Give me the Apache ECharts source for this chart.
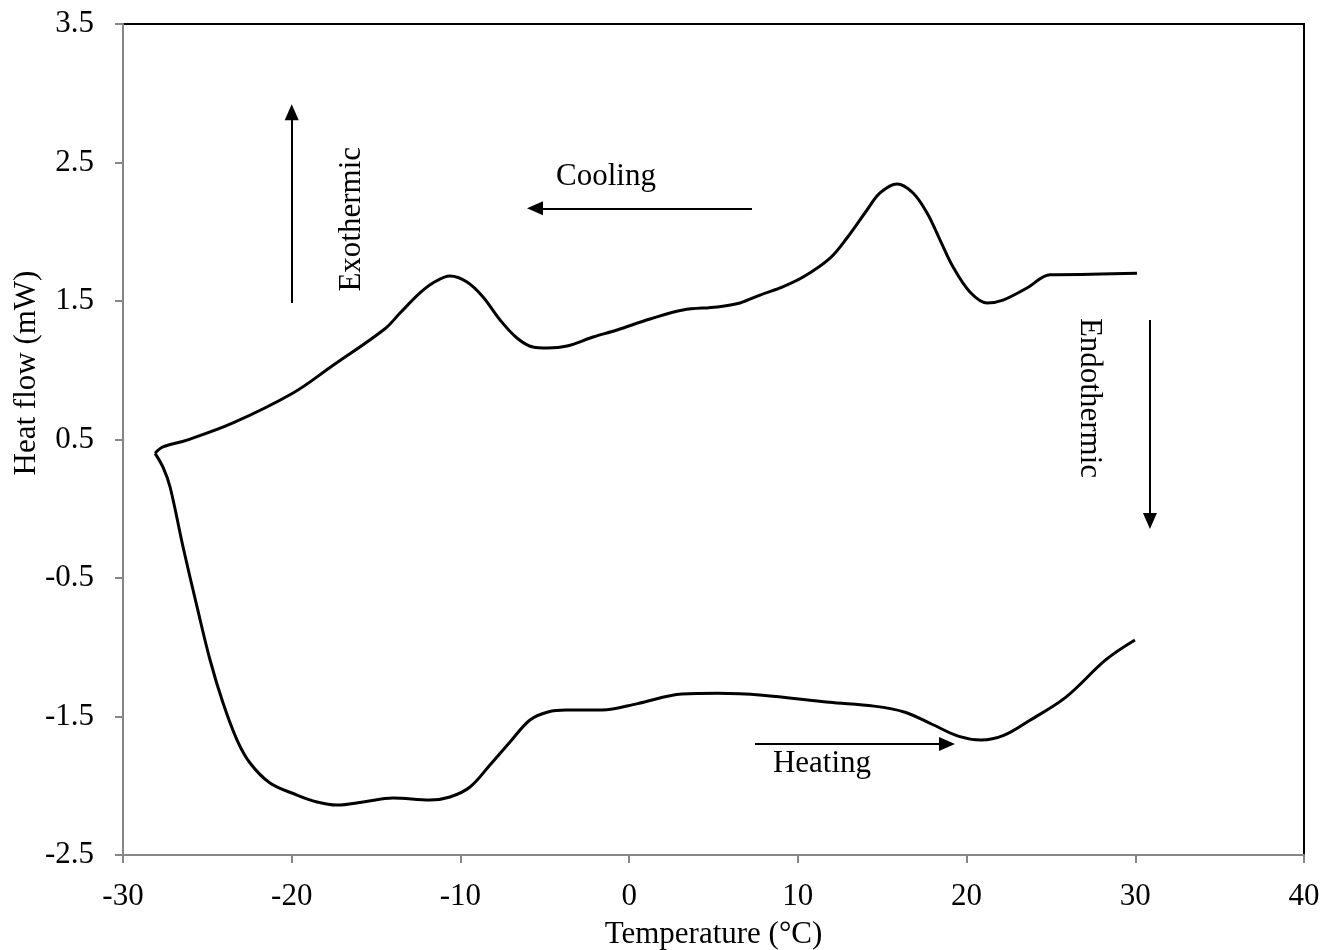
<!DOCTYPE html>
<html><head><meta charset="utf-8">
<script src="https://cdn.jsdelivr.net/npm/echarts@6/dist/echarts.min.js"></script>
<style>html,body{margin:0;padding:0;background:#fff}#c{width:1325px;height:950px}</style>
</head><body><div id="c"></div>
<script>
// Cooling scan (upper curve), read from 30 °C down to -28 °C
const coolingT = [30.1, 25.36, 24.95, 23.58, 22.16, 21.21, 20.2, 19.2, 18.43, 17.66, 16.83, 15.88, 14.87, 14.1, 12.91, 11.91, 10.31, 8.94, 7.76, 6.57, 5.21, 3.19, 1.24, -0.72, -2.14, -3.68, -4.87, -5.7, -6.65, -7.65, -8.66, -9.61, -10.62, -11.63, -12.4, -13.58, -14.47, -17.73, -19.92, -23.48, -26.21, -27.63, -28.1];
const coolingH = [1.70, 1.69, 1.69, 1.594, 1.507, 1.486, 1.565, 1.745, 1.94, 2.135, 2.28, 2.345, 2.28, 2.157, 1.955, 1.81, 1.673, 1.594, 1.543, 1.486, 1.457, 1.435, 1.37, 1.291, 1.24, 1.175, 1.161, 1.168, 1.233, 1.363, 1.529, 1.637, 1.68, 1.63, 1.558, 1.413, 1.30, 1.02, 0.836, 0.62, 0.496, 0.446, 0.40];
// Heating scan (lower curve), from -28 °C up to 30 °C
const heatingT = [-28.1, -27.63, -27.21, -26.44, -25.61, -24.84, -24.07, -23.24, -22.47, -21.29, -19.69, -18.5, -17.32, -15.77, -14.0, -11.8, -10.62, -9.43, -8.25, -7.06, -5.88, -4.81, -3.74, -1.61, 0.5, 3.13, 5.27, 7.9, 11.85, 14.51, 16.35, 17.95, 19.55, 20.86, 22.2, 23.76, 25.89, 28.26, 29.98];
const heatingH = [0.40, 0.30, 0.157, -0.276, -0.709, -1.092, -1.403, -1.67, -1.836, -1.98, -2.067, -2.117, -2.139, -2.117, -2.088, -2.103, -2.081, -2.009, -1.85, -1.684, -1.525, -1.467, -1.453, -1.453, -1.407, -1.338, -1.332, -1.346, -1.397, -1.425, -1.469, -1.556, -1.644, -1.67, -1.637, -1.527, -1.36, -1.09, -0.948];

const xTitle = 'Temperature (°C)';
const yTitle = 'Heat flow (mW)';
// annotation arrows [x1, y1, x2, y2] in data units (arrowhead centred near the end)
const arrowExo = [-20, 1.486, -20, 2.862];
const arrowCool = [7.28, 2.169, -5.58, 2.169];
const arrowEndo = [30.87, 1.363, 30.87, -0.088];
const arrowHeat = [7.46, -1.699, 18.84, -1.699];
// annotation labels [text, x, y, rotation]
const notes = [['Exothermic', -16.43, 2.09, 90], ['Cooling', -1.37, 2.395, 0], ['Endothermic', 27.26, 0.80, -90], ['Heating', 11.43, -1.845, 0]];

const FONT = '"Liberation Serif", "Times New Roman", serif';
const FS = 31;
const zip = (a, b) => a.map((v, i) => [v, b[i]]);
const arrowLine = a => [{coord: [a[0], a[1]]}, {coord: [a[2], a[3]]}];

const chart = echarts.init(document.getElementById('c'), null, {renderer: 'canvas'});
const axisCommon = {
  axisLine: {show: true, onZero: false, lineStyle: {color: '#868686', width: 2}},
  axisTick: {show: true, inside: false, length: 8, lineStyle: {color: '#868686', width: 2}},
  splitLine: {show: false},
};
chart.setOption({
  animation: false,
  backgroundColor: '#fff',
  grid: {left: 123, top: 24, right: 21, bottom: 95, containLabel: false, outerBoundsMode: 'none',
    show: true, borderColor: '#000', borderWidth: 2, backgroundColor: 'transparent'},
  xAxis: Object.assign({
    type: 'value', min: -30, max: 40, interval: 10,
    axisLabel: {color: '#000', fontFamily: FONT, fontSize: FS, margin: 26},
    name: xTitle, nameLocation: 'middle', nameGap: 64,
    nameTextStyle: {color: '#000', fontFamily: FONT, fontSize: FS},
  }, axisCommon),
  yAxis: Object.assign({
    type: 'value', min: -2.5, max: 3.5, interval: 1,
    axisLabel: {color: '#000', fontFamily: FONT, fontSize: FS, margin: 29},
  }, axisCommon),
  series: [
    {type: 'line', name: 'Cooling', data: zip(coolingT, coolingH), smooth: 0.35, showSymbol: false,
     lineStyle: {color: '#000', width: 3}, z: 3,
     markLine: {silent: true, symbol: ['none', 'triangle'], symbolSize: [14, 16], label: {show: false},
       lineStyle: {color: '#000', width: 2, type: 'solid'},
       data: [arrowLine(arrowExo), arrowLine(arrowCool), arrowLine(arrowEndo), arrowLine(arrowHeat)]}},
    {type: 'line', name: 'Heating', data: zip(heatingT, heatingH), smooth: 0.35, showSymbol: false,
     lineStyle: {color: '#000', width: 3}, z: 3}
  ]
});

const g = notes.map(n => {
  const p = chart.convertToPixel({gridIndex: 0}, [n[1], n[2]]);
  return {type: 'text', x: p[0], y: p[1], rotation: n[3] * Math.PI / 180,
    style: {text: n[0], fill: '#000', font: FS + 'px ' + FONT, align: 'center', verticalAlign: 'middle'}};
});
g.push({type: 'text', x: 27, y: 373, rotation: Math.PI / 2,
  style: {text: yTitle, fill: '#000', font: FS + 'px ' + FONT, align: 'center', verticalAlign: 'middle'}});
chart.setOption({graphic: g});
</script>
</body></html>
